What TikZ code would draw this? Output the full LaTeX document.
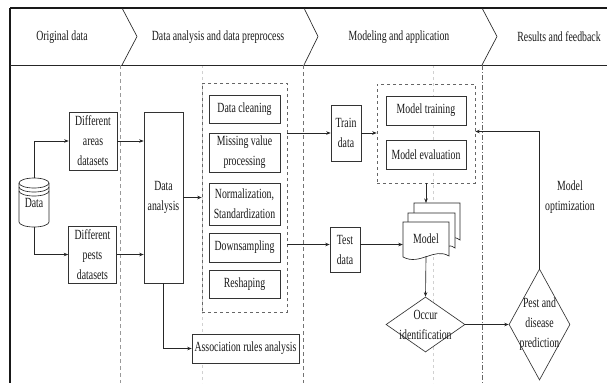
\documentclass[tikz,border=0pt]{standalone}
\usepackage{fontspec}
\setmainfont{Liberation Serif}[FakeStretch=0.7]
\usetikzlibrary{shapes.geometric,arrows.meta}
\newcommand\dfs{\fontsize{14}{20}\selectfont}
\begin{document}
\begin{tikzpicture}[x=1pt,y=-1pt,
  ln/.style={draw=black!85, line width=0.65pt},
  box/.style={draw=black!80, line width=0.65pt, fill=white, align=center, inner sep=0pt, font=\dfs, text=black!90},
  txt/.style={align=center, inner sep=0pt, font=\dfs, text=black!90},
  grpbox/.style={draw=black!60, dashed, line width=0.6pt, inner sep=0pt},
  arr/.style={draw=black!85, line width=0.65pt, -{Stealth[length=4.5pt,width=3.5pt]}},
  faint/.style={draw=black!18, dashed, line width=0.5pt},
  lane/.style={draw=black!55, line width=0.6pt, dash pattern=on 4pt off 3pt},
  dia/.style={draw=black!80, line width=0.65pt, fill=white, shape=diamond, inner sep=0pt}
]
\useasboundingbox (0,0) rectangle (607,383);
\fill[white] (0,0) rectangle (607,383);

% faint grid lines
\draw[faint] (202,65) -- (202,383);
\draw[faint] (433,65) -- (433,383);

% header
\draw[black!90, line width=1.4pt] (10,8) -- (607,8);
\draw[black!90, line width=1.2pt] (10,8) -- (10,383);
\draw[black!85, line width=0.9pt] (10,65) -- (607,65);
\draw[ln] (122,8) -- (137,36.5) -- (122,65);
\draw[ln] (304,8) -- (318,36.5) -- (304,65);
\draw[ln] (482,8) -- (497,36.5) -- (482,65);
\node[txt] (h1) at (62,37) {Original data};
\node[txt] (h2) at (218,37) {Data analysis and data preprocess};
\node[txt] (h3) at (399,37) {Modeling and application};
\node[txt] (h4) at (559,37) {Results and feedback};

% lanes
\draw[lane, black!40] (120,65) -- (120,383);
\draw[lane] (303,65) -- (303,383);
\draw[draw=black!60, line width=0.9pt, dash pattern=on 5pt off 2pt on 1pt off 2pt] (482,65) -- (482,383);

% cylinder
\draw[ln, fill=white] (19,183) -- (19,222) arc[start angle=180, end angle=360, x radius=15pt, y radius=5pt] -- (49,183);
\draw[ln, fill=white] (34,183) ellipse [x radius=15pt, y radius=5pt];
\draw[ln] (19,187) arc[start angle=180, end angle=360, x radius=15pt, y radius=5pt];
\draw[ln] (19,191) arc[start angle=180, end angle=360, x radius=15pt, y radius=5pt];
\node[txt, minimum width=30, minimum height=49] (data) at (34,202.5) {Data};

% original data boxes
\node[box, minimum width=48, minimum height=58] (areas) at (93,141) {Different\\areas\\datasets};
\node[box, minimum width=48, minimum height=57] (pests) at (92.5,254.5) {Different\\pests\\datasets};

% data analysis
\node[box, minimum width=39, minimum height=171] (analysis) at (163.5,197.5) {Data\\analysis};
\node[grpbox, minimum width=85, minimum height=229] (grp) at (244.5,197.5) {};
\node[box, minimum width=71, minimum height=28] (clean) at (244.5,109) {Data cleaning};
\node[box, minimum width=71, minimum height=39] (missing) at (244.5,152.5) {Missing value\\processing};
\node[box, minimum width=71, minimum height=42] (norm) at (244.5,204) {Normalization,\\Standardization};
\node[box, minimum width=71, minimum height=29] (down) at (244.5,247.5) {Downsampling};
\node[box, minimum width=71, minimum height=28] (reshape) at (244.5,284) {Reshaping};
\node[box, minimum width=107, minimum height=29] (assoc) at (245.5,348.5) {Association rules analysis};

% modeling
\node[box, minimum width=30, minimum height=56] (train) at (346,133) {Train\\data};
\node[box, minimum width=30, minimum height=45] (test) at (345,249.5) {Test\\data};
\node[grpbox, minimum width=98, minimum height=99] (mgrp) at (426,133.5) {};
\node[box, minimum width=80, minimum height=29] (mtrain) at (426,110.5) {Model training};
\node[box, minimum width=80, minimum height=29] (meval) at (426,154.5) {Model evaluation};

% model multi-document
\draw[ln, fill=white] (414,242) -- (414,203) -- (460,203) -- (460,240) .. controls (455,237) .. (450,240) -- (414,242);
\draw[ln, fill=white] (408,250) -- (408,213) -- (455,213) -- (455,248) .. controls (450,245) .. (445,249) -- (408,250);
\draw[ln, fill=white] (403,222) -- (449,222) -- (449,256) .. controls (434,247) and (420,266) .. (403,257) -- cycle;
\coordinate (mtop) at (426,203);
\node[txt, minimum width=46, minimum height=34] (model) at (426,239) {Model};

% diamonds
\node[dia, minimum width=79, minimum height=55] (occur) at (425.5,324.5) {};
\node[txt] (occurt) at (425.5,324.5) {Occur\\identification};
\node[dia, minimum width=61, minimum height=111] (pest) at (539.5,324.5) {};
\node[txt] (pestt) at (539.5,324.5) {Pest and\\disease\\prediction};
\node[txt] (opt) at (570,197) {Model\\optimization};

% connectors
\draw[arr] (data.north) |- (areas.west);
\draw[arr] (data.south) |- (pests.west);
\draw[arr] (areas.east) -- (analysis.west |- areas.east);
\draw[arr] (pests.east) -- (analysis.west |- pests.east);
\draw[arr] (analysis.east) -- (grp.west |- analysis.east);
\draw[arr] (analysis.south) |- (assoc.west);
\draw[arr] (grp.east |- train.west) -- (train.west);
\draw[arr] ([yshift=5pt]grp.east |- test.west) -- ([yshift=5pt]test.west);
\draw[arr] (train.east) -- (mgrp.west |- train.east);
\draw[arr] ([yshift=5pt]test.east) -- ([yshift=5pt]model.west |- test.east);
\draw[arr] (mgrp.south) -- (mtop);
\draw[arr] (model.south) -- (occur.north);
\draw[arr] (occur.east) -- (pest.west);
\draw[arr] (pest.north) |- ([yshift=2pt]mgrp.east);
\end{tikzpicture}
\end{document}
